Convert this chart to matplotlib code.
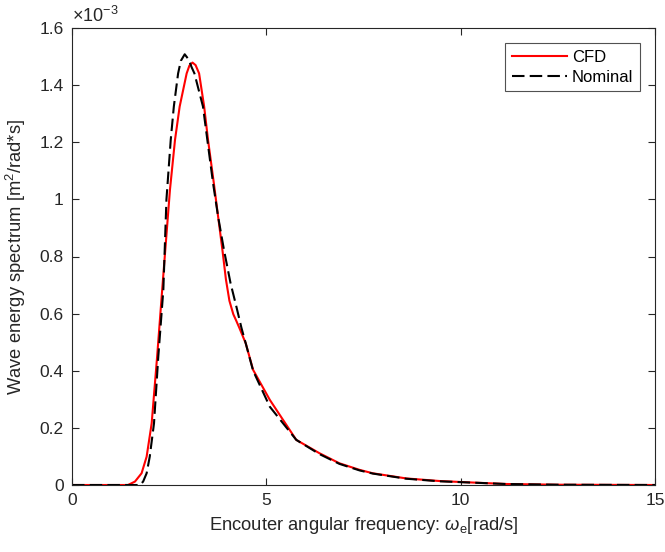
import matplotlib
matplotlib.use("Agg")
import matplotlib.pyplot as plt

plt.rcParams['font.family'] = ['Liberation Sans', 'DejaVu Sans']
plt.rcParams['mathtext.fontset'] = 'custom'
plt.rcParams['mathtext.rm'] = 'Liberation Sans'
plt.rcParams['mathtext.it'] = 'Liberation Sans:italic'

# Data (spectrum values in units of 1e-3 m^2/(rad*s))
cfd_w = [0.0, 1.0, 1.44, 1.62, 1.79, 1.92, 2.05, 2.19, 2.32, 2.52, 2.65, 2.77,
         2.95, 3.02, 3.10, 3.18, 3.27, 3.40, 3.50, 3.65, 3.76, 3.87, 3.96, 4.05,
         4.15, 4.22, 4.30, 4.47, 4.66, 5.09, 5.60, 5.77, 6.37, 6.88, 7.40, 7.74, 8.60,
         9.45, 10.0, 11.17, 12.5, 15.0]
cfd_s = [0.0, 0.0, 0.0, 0.012, 0.041, 0.099, 0.216, 0.449, 0.683, 1.033, 1.208, 1.325,
         1.441, 1.468, 1.479, 1.470, 1.441, 1.325, 1.208, 1.056, 0.939, 0.823, 0.720, 0.645,
         0.598, 0.577, 0.552, 0.496, 0.403, 0.298, 0.193, 0.158, 0.111, 0.076, 0.053, 0.041, 0.023,
         0.014, 0.0105, 0.0035, 0.001, 0.0]

nom_w = [0.0, 1.0, 1.75, 1.83, 1.92, 2.00, 2.11, 2.22, 2.35, 2.43, 2.54, 2.62,
         2.73, 2.80, 2.90, 3.00, 3.08, 3.15, 3.37, 3.49, 3.63, 3.76, 3.91, 4.08,
         4.23, 4.36, 4.47, 4.66, 5.09, 5.60, 5.77, 6.37, 6.88, 7.40, 7.74, 8.60,
         9.45, 10.0, 11.17, 12.5, 15.0]
nom_s = [0.0, 0.0, 0.0, 0.012, 0.041, 0.099, 0.216, 0.449, 0.683, 1.000, 1.208, 1.325,
         1.441, 1.485, 1.508, 1.490, 1.462, 1.441, 1.325, 1.200, 1.056, 0.939, 0.823, 0.706,
         0.624, 0.550, 0.496, 0.400, 0.274, 0.187, 0.158, 0.108, 0.074, 0.051, 0.040, 0.022,
         0.013, 0.010, 0.0035, 0.001, 0.0]

x_ticks = [0, 5, 10, 15]
y_ticks = [0, 0.2, 0.4, 0.6, 0.8, 1.0, 1.2, 1.4, 1.6]
y_tick_labels = ['0', '0.2', '0.4', '0.6', '0.8', '1', '1.2', '1.4', '1.6']

fig = plt.figure(figsize=(6.65, 5.52), dpi=100)
ax = fig.add_axes([72/665, 67/552, 583/665, 457/552])

ax.plot(cfd_w, cfd_s, color='#ff0000', lw=1.5, label='CFD')
ax.plot(nom_w, nom_s, color='black', lw=1.5, dashes=(6, 2.5), label='Nominal')

ax.set_xlim(0, 15)
ax.set_ylim(0, 1.6)
ax.set_xticks(x_ticks)
ax.set_yticks(y_ticks)
ax.set_yticklabels(y_tick_labels)

axcol = '#262626'
for s in ax.spines.values():
    s.set_color(axcol)
    s.set_linewidth(0.8)
ax.tick_params(direction='in', length=5, width=0.8, colors=axcol,
               top=True, right=True, labelsize=12.5, pad=6)

ax.set_xlabel(r'Encouter angular frequency: $\omega_\mathrm{e}$[rad/s]', fontsize=13.2, color=axcol, labelpad=5)
ax.set_ylabel(r'Wave energy spectrum [m$^2$/rad*s]', fontsize=13.2, color=axcol, labelpad=8)

ax.text(0.0, 1.005, r'$\times$10$^{-3}$', transform=ax.transAxes, fontsize=13,
        color=axcol, ha='left', va='bottom')

leg = ax.legend(loc='upper right', fontsize=12, frameon=True, fancybox=False,
                edgecolor=axcol, handlelength=3.3, borderaxespad=0.9,
                handletextpad=0.3, borderpad=0.4, labelspacing=0.3)
leg.get_frame().set_linewidth(0.8)

fig.savefig('out.png', dpi=100)
